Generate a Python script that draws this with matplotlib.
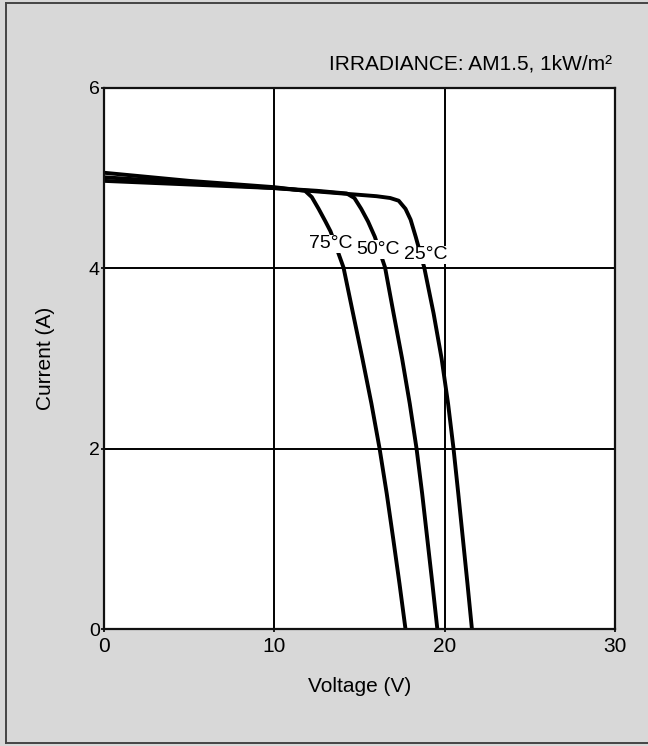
import matplotlib
matplotlib.use('Agg')
import matplotlib.pyplot as plt
from matplotlib.lines import Line2D

plt.rcParams['font.family'] = ['Liberation Sans', 'DejaVu Sans']

# I-V curves (voltage V, current A)
v_25 = [0, 5, 10, 14, 16.0, 16.8, 17.3, 17.7, 18.0, 18.3, 18.55, 18.8,
        19.35, 19.82, 20.2, 20.52, 20.8, 21.07, 21.34, 21.6]
i_25 = [4.97, 4.93, 4.89, 4.83, 4.80, 4.78, 4.75, 4.66, 4.54, 4.35, 4.18, 4.01,
        3.5, 3.0, 2.5, 2.0, 1.5, 1.0, 0.5, 0]

v_50 = [0, 5, 10, 12.5, 14.25, 14.7, 15.1, 15.5, 15.9, 16.2, 16.5,
        17.0, 17.5, 17.95, 18.35, 18.68, 18.98, 19.28, 19.57]
i_50 = [5.01, 4.95, 4.89, 4.86, 4.83, 4.78, 4.66, 4.52, 4.35, 4.18, 4.01,
        3.5, 3.0, 2.5, 2.0, 1.5, 1.0, 0.5, 0]

v_75 = [0, 5, 10, 11.8, 12.2, 12.6, 13.0, 13.3, 13.7, 14.06,
        14.62, 15.17, 15.7, 16.18, 16.6, 16.98, 17.35, 17.7]
i_75 = [5.06, 4.97, 4.90, 4.86, 4.79, 4.66, 4.52, 4.41, 4.20, 4.01,
        3.5, 3.0, 2.5, 2.0, 1.5, 1.0, 0.5, 0]

labels = ['75°C', '50°C', '25°C']
label_v = [13.3, 16.1, 18.9]
label_i = [4.27, 4.21, 4.15]

x_ticks = [0, 10, 20, 30]
y_ticks = [0, 2, 4, 6]

BG = '#d8d8d8'

fig = plt.figure(figsize=(6.48, 7.46), dpi=100, facecolor=BG)
ax = fig.add_axes([104 / 648, 1 - 629 / 746, (615 - 104) / 648, (629 - 88) / 746])
ax.set_facecolor('white')

for v, i in [(v_25, i_25), (v_50, i_50), (v_75, i_75)]:
    ax.plot(v, i, color='black', lw=2.8, solid_capstyle='butt', solid_joinstyle='round', zorder=3)

for t, x, y in zip(labels, label_v, label_i):
    ax.text(x, y, t, ha='center', va='center', fontsize=14, color='black', zorder=4,
            bbox=dict(facecolor='white', edgecolor='none', pad=0.5))

ax.set_xlim(0, 30)
ax.set_ylim(0, 6)
ax.set_xticks(x_ticks)
ax.set_yticks(y_ticks)
ax.grid(True, color='black', lw=1.4)
ax.set_axisbelow(True)
for s in ax.spines.values():
    s.set_linewidth(1.6)
    s.set_color('#111111')
    s.set_zorder(5)
ax.tick_params(axis='both', length=2, width=1.2, color='black')
ax.tick_params(axis='x', labelsize=15, pad=4)
ax.tick_params(axis='y', labelsize=14, pad=1)

ax.set_xlabel('Voltage (V)', fontsize=15, labelpad=15)
ax.set_ylabel('Current (A)', fontsize=15, labelpad=24)

fig.text(612 / 648, 1 - 70 / 746, 'IRRADIANCE: AM1.5, 1kW/m²', ha='right', va='baseline',
         fontsize=15, color='black')

# outer frame of the panel (left, top, bottom)
W, H = 648, 746
for xs, ys in [([6, 6], [3, 743]), ([6, 648], [3, 3]), ([6, 648], [743, 743])]:
    fig.add_artist(Line2D([x / W for x in xs], [1 - y / H for y in ys], color='#444444', lw=1.4))

fig.savefig('out.png', dpi=100, facecolor=BG)
